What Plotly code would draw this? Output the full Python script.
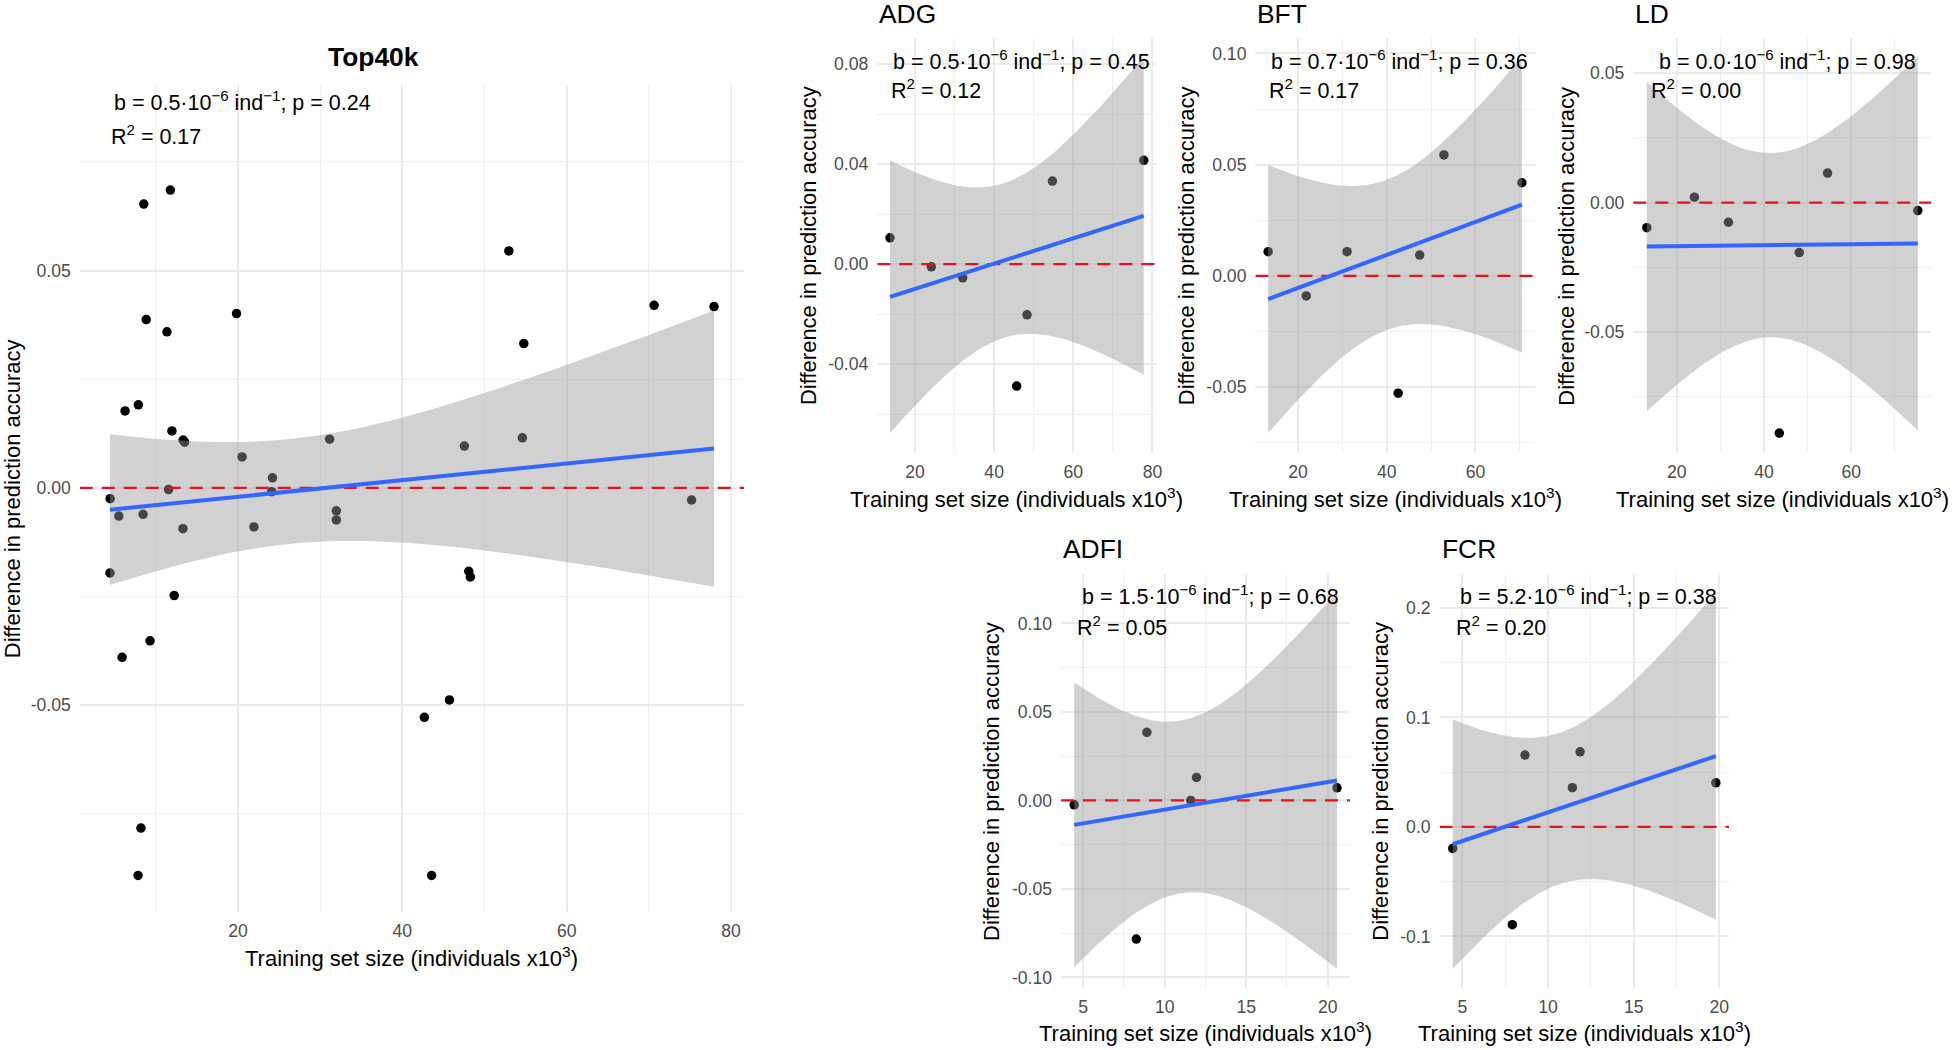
import math
import numpy as np
import plotly.graph_objects as go

W, H = 1959, 1050

# ---------------- data (training size in thousands, difference in accuracy) ----------------
top40k_x = [8.54, 11.77, 52.96, 8.83, 11.36, 19.82, 70.64, 77.93, 54.78, 6.26, 7.88, 11.96,
            13.33, 13.50, 31.15, 47.55, 54.60, 20.50, 24.20, 11.55, 24.10, 4.44, 75.20, 5.50,
            8.45, 31.97, 31.97, 13.30, 21.94, 4.42, 12.24, 48.08, 48.28, 9.30, 5.90, 45.73,
            42.68, 8.19, 7.84, 43.56]
top40k_y = [0.0653, 0.0685, 0.0545, 0.0387, 0.0359, 0.0401, 0.0420, 0.0417, 0.0332, 0.0177,
            0.0191, 0.0131, 0.0110, 0.0105, 0.0112, 0.0096, 0.0115, 0.0071, 0.0023, -0.0004,
            -0.0009, -0.0025, -0.0028, -0.0065, -0.0061, -0.0053, -0.0074, -0.0094, -0.0090,
            -0.0196, -0.0248, -0.0192, -0.0205, -0.0352, -0.0390, -0.0488, -0.0528, -0.0783,
            -0.0892, -0.0892]

adg_x = [13.68, 24.13, 32.05, 45.70, 48.30, 54.72, 77.80]
adg_y = [0.0105, -0.0011, -0.0055, -0.0488, -0.0203, 0.0332, 0.0415]

bft_x = [13.27, 21.87, 31.07, 42.58, 47.44, 52.90, 70.48]
bft_y = [0.0109, -0.0090, 0.0109, -0.0527, 0.0094, 0.0544, 0.0419]

ld_x = [13.15, 24.06, 31.85, 43.52, 48.10, 54.58, 75.27]
ld_y = [-0.0097, 0.0021, -0.0076, -0.0891, -0.0193, 0.0114, -0.0031]

adfi_x = [4.45, 8.26, 8.91, 11.60, 11.95, 20.57]
adfi_y = [-0.0025, -0.0783, 0.0385, 0.0000, 0.0130, 0.0071]

fcr_x = [4.43, 7.91, 8.65, 11.42, 11.87, 19.80]
fcr_y = [-0.0197, -0.0894, 0.0655, 0.0358, 0.0685, 0.0402]

stat_b = ["0.5", "0.5", "0.7", "0.0", "1.5", "5.2"]
stat_p = ["0.24", "0.45", "0.36", "0.98", "0.68", "0.38"]
stat_r2 = ["0.17", "0.12", "0.17", "0.00", "0.05", "0.20"]
titles = ["Top40k", "ADG", "BFT", "LD", "ADFI", "FCR"]
reference_level = 0.0

x_ticks = [[20, 40, 60, 80], [20, 40, 60, 80], [20, 40, 60], [20, 40, 60],
           [5, 10, 15, 20], [5, 10, 15, 20]]
x_minor = [[10, 30, 50, 70], [30, 50, 70], [30, 50, 70], [30, 50, 70],
           [7.5, 12.5, 17.5], [7.5, 12.5, 17.5]]
y_ticks = [[-0.05, 0.0, 0.05], [-0.04, 0.0, 0.04, 0.08], [-0.05, 0.0, 0.05, 0.10],
           [-0.05, 0.0, 0.05], [-0.10, -0.05, 0.0, 0.05, 0.10], [-0.1, 0.0, 0.1, 0.2]]
y_ticklabels = [["-0.05", "0.00", "0.05"], ["-0.04", "0.00", "0.04", "0.08"],
                ["-0.05", "0.00", "0.05", "0.10"], ["-0.05", "0.00", "0.05"],
                ["-0.10", "-0.05", "0.00", "0.05", "0.10"], ["-0.1", "0.0", "0.1", "0.2"]]
y_minor = [[-0.075, -0.025, 0.025, 0.075], [-0.06, -0.02, 0.02, 0.06],
           [-0.075, -0.025, 0.025, 0.075], [-0.075, -0.025, 0.025],
           [-0.075, -0.025, 0.025, 0.075], [-0.05, 0.05, 0.15]]
y_ranges = [[-0.0976, 0.0928], [-0.0757, 0.0903], [-0.0797, 0.1068], [-0.0969, 0.0635],
            [-0.1059, 0.1279], [-0.1471, 0.2309]]

# ---------------- layout geometry (pixels) ----------------
panels_px = [
    (80, 746.5, 84.5, 912),
    (880, 1160, 38.3, 453.3),
    (1259.3, 1539.3, 38.3, 453.3),
    (1638.3, 1937.3, 38.3, 453.3),
    (1064.3, 1354.3, 574, 987.9),
    (1444, 1734.3, 574, 987.9),
]

FONT = "Liberation Sans, Arial, sans-serif"


def t975(df):
    c = math.gamma((df + 1) / 2) / (math.sqrt(df * math.pi) * math.gamma(df / 2))

    def cdf(t):
        xs = np.linspace(0, t, 4001)
        ys = c * np.power(1 + xs * xs / df, -(df + 1) / 2)
        return 0.5 + np.trapezoid(ys, xs)

    lo, hi = 0.0, 20.0
    for _ in range(80):
        mid = (lo + hi) / 2
        if cdf(mid) < 0.975:
            lo = mid
        else:
            hi = mid
    return (lo + hi) / 2


def fit(x, y, n=120):
    x = np.asarray(x, float)
    y = np.asarray(y, float)
    k = len(x)
    b, a = np.polyfit(x, y, 1)
    res = y - (a + b * x)
    s = math.sqrt(np.sum(res ** 2) / (k - 2))
    xm = x.mean()
    sxx = np.sum((x - xm) ** 2)
    xg = np.linspace(x.min(), x.max(), n)
    yg = a + b * xg
    se = s * np.sqrt(1 / k + (xg - xm) ** 2 / sxx)
    t = t975(k - 2)
    return xg, yg, yg - t * se, yg + t * se


datasets = [(top40k_x, top40k_y), (adg_x, adg_y), (bft_x, bft_y), (ld_x, ld_y),
            (adfi_x, adfi_y), (fcr_x, fcr_y)]

fig = go.Figure()
layout = dict(
    width=W, height=H, margin=dict(l=0, r=0, t=0, b=0),
    paper_bgcolor="white", plot_bgcolor="white", showlegend=False,
    font=dict(family=FONT, color="black"),
)
annotations = []

for i, (xs, ys) in enumerate(datasets):
    sfx = "" if i == 0 else str(i + 1)
    xa, ya = "x" + sfx, "y" + sfx
    x0, x1, y0, y1 = panels_px[i]
    xmin, xmax = min(xs), max(xs)
    span = xmax - xmin
    xr = [xmin - 0.05 * span, xmax + 0.05 * span]

    layout["xaxis" + sfx] = dict(
        domain=[x0 / W, x1 / W], anchor=ya, range=xr,
        tickvals=x_ticks[i], ticktext=[str(v) for v in x_ticks[i]],
        showgrid=True, gridcolor="#EBEBEB", gridwidth=2, zeroline=False,
        showline=False, ticks="", ticklabelstandoff=6,
        tickfont=dict(family=FONT, size=17.6, color="#4D4D4D"),
        minor=dict(tickvals=x_minor[i], showgrid=True, gridcolor="#EFEFEF", gridwidth=1),
    )
    layout["yaxis" + sfx] = dict(
        domain=[1 - y1 / H, 1 - y0 / H], anchor=xa, range=y_ranges[i],
        tickvals=y_ticks[i], ticktext=y_ticklabels[i],
        showgrid=True, gridcolor="#EBEBEB", gridwidth=2, zeroline=False,
        showline=False, ticks="", ticklabelstandoff=8,
        tickfont=dict(family=FONT, size=17.6, color="#4D4D4D"),
        minor=dict(tickvals=y_minor[i], showgrid=True, gridcolor="#EFEFEF", gridwidth=1),
    )

    fig.add_trace(go.Scatter(x=xs, y=ys, mode="markers", xaxis=xa, yaxis=ya,
                             marker=dict(color="black", size=9.5, line=dict(width=0)),
                             hoverinfo="skip"))
    xg, yg, lo, hi = fit(xs, ys)
    fig.add_trace(go.Scatter(x=np.concatenate([xg, xg[::-1]]),
                             y=np.concatenate([hi, lo[::-1]]),
                             mode="lines", fill="toself", xaxis=xa, yaxis=ya,
                             fillcolor="rgba(153,153,153,0.45)", line=dict(width=0),
                             hoverinfo="skip"))
    # zero reference line across the whole panel
    fig.add_trace(go.Scatter(x=xr, y=[reference_level, reference_level], mode="lines",
                             xaxis=xa, yaxis=ya,
                             line=dict(color="#E8101A", width=2.2, dash="13px,9px"),
                             hoverinfo="skip"))
    fig.add_trace(go.Scatter(x=xg, y=yg, mode="lines", xaxis=xa, yaxis=ya,
                             line=dict(color="#3366FF", width=4), hoverinfo="skip"))

    # panel title
    if i == 0:
        annotations.append(dict(text="<b>Top40k</b>", x=375 / W, y=1 - 57 / H, xref="paper",
                                yref="paper", xanchor="center", yanchor="middle",
                                showarrow=False, font=dict(family=FONT, size=26.4, color="black")))
    else:
        ty = 14 if i <= 3 else 548.7
        annotations.append(dict(text=titles[i], x=x0 / W, y=1 - ty / H, xref="paper",
                                yref="paper", xanchor="left", yanchor="middle",
                                showarrow=False, font=dict(family=FONT, size=26.4, color="black")))

    # statistics labels
    if i == 0:
        bx, by, rx, ry = 112.5, 101, 109, 135
    elif i <= 3:
        off = {1: (893.3, 891.7), 2: (1273.3, 1271), 3: (1661.7, 1654)}[i]
        bx, by, rx, ry = off[0], 60, off[1], 89
    else:
        off = {4: (1083.3, 1078.3), 5: (1462.7, 1458.3)}[i]
        bx, by, rx, ry = off[0], 595, off[1], 625.5
    annotations.append(dict(
        text="b = " + stat_b[i] + "·10<sup>−6</sup> ind<sup>−1</sup>; p = " + stat_p[i],
        x=bx / W, y=1 - by / H, xref="paper", yref="paper", xanchor="left", yanchor="middle",
        showarrow=False, font=dict(family=FONT, size=21.5, color="black")))
    annotations.append(dict(
        text="R<sup>2</sup> = " + stat_r2[i],
        x=rx / W, y=1 - ry / H, xref="paper", yref="paper", xanchor="left", yanchor="middle",
        showarrow=False, font=dict(family=FONT, size=21.5, color="black")))

    # axis titles
    if i == 0:
        xty, ytx = 957, 12
    elif i <= 3:
        xty, ytx = 498, {1: 811.7, 2: 1190, 3: 1571.7}[i]
    else:
        xty, ytx = 1032, {4: 995, 5: 1385}[i]
    annotations.append(dict(
        text="Training set size (individuals x10<sup>3</sup>)",
        x=(x0 + x1) / 2 / W, y=1 - xty / H, xref="paper", yref="paper",
        xanchor="center", yanchor="middle", showarrow=False,
        font=dict(family=FONT, size=22, color="black")))
    annotations.append(dict(
        text="Difference in prediction accuracy", textangle=-90,
        x=ytx / W, y=1 - (y0 + y1) / 2 / H, xref="paper", yref="paper",
        xanchor="center", yanchor="middle", showarrow=False,
        font=dict(family=FONT, size=22, color="black")))

layout["annotations"] = annotations
fig.update_layout(**layout)
fig.write_html("out.html", config={"displayModeBar": False},
               post_script="document.body.style.margin='0px';document.body.style.overflow='hidden';")
